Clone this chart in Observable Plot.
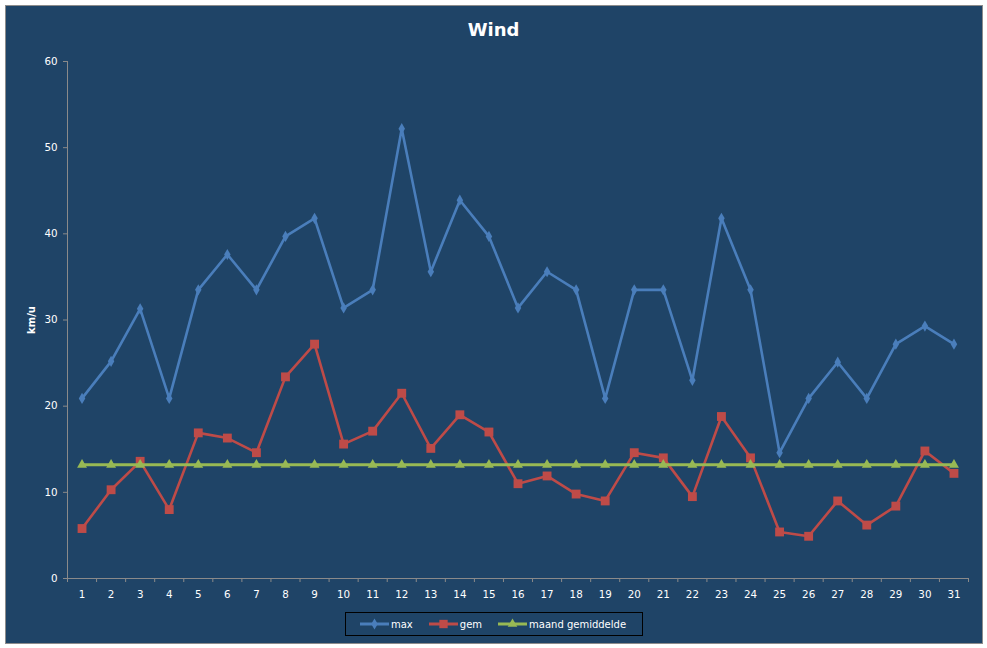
<!DOCTYPE html>
<html><head><meta charset="utf-8">
<script src="https://cdn.jsdelivr.net/npm/d3@7"></script>
<script src="https://cdn.jsdelivr.net/npm/@observablehq/plot@0.6"></script>
<style>
html,body{margin:0;padding:0;background:#fff;width:987px;height:648px;overflow:hidden;}
#frame{position:absolute;left:5px;top:5px;width:976px;height:637px;background:#1F4467;border:1px solid #8c8c8c;}
#chart{position:absolute;left:0;top:0;}
#title{position:absolute;left:0;width:987px;top:19px;text-align:center;font:bold 18px "DejaVu Sans";color:#fff;}
#ylabel{position:absolute;left:31px;top:320px;transform:translate(-50%,-50%) rotate(-90deg);font:bold 10px "DejaVu Sans";color:#fff;white-space:nowrap;}
#legend{position:absolute;left:345px;top:612px;width:296px;height:22px;border:1px solid #000;display:flex;align-items:center;font:10px "DejaVu Sans";color:#fff;}
#legend .item{display:flex;align-items:center;margin-left:14px;}
#legend .item + .item{margin-left:16px;}
#legend svg{display:block;margin-right:2px;}
</style></head>
<body>
<div id="frame"></div>
<div id="chart"></div>
<div id="title">Wind</div>
<div id="ylabel">km/u</div>
<div id="legend"></div>
<script>
const days = [1,2,3,4,5,6,7,8,9,10,11,12,13,14,15,16,17,18,19,20,21,22,23,24,25,26,27,28,29,30,31];
const maxVals = [20.9,25.2,31.3,20.9,33.5,37.6,33.5,39.7,41.8,31.4,33.5,52.2,35.6,43.9,39.7,31.4,35.6,33.5,20.9,33.5,33.5,23.0,41.8,33.5,14.6,20.9,25.1,20.9,27.2,29.3,27.2];
const gemVals = [5.8,10.3,13.6,8.0,16.9,16.3,14.6,23.4,27.2,15.6,17.1,21.5,15.1,19.0,17.0,11.0,11.9,9.8,9.0,14.6,14.0,9.5,18.8,14.0,5.4,4.9,9.0,6.2,8.4,14.8,12.2];
const avgVals = [13.2,13.2,13.2,13.2,13.2,13.2,13.2,13.2,13.2,13.2,13.2,13.2,13.2,13.2,13.2,13.2,13.2,13.2,13.2,13.2,13.2,13.2,13.2,13.2,13.2,13.2,13.2,13.2,13.2,13.2,13.2];
const yTicks = [0,10,20,30,40,50,60];
const seriesNames = ["max","gem","maand gemiddelde"];
const seriesColors = ["#4A7EBB","#BE4B48","#98B954"];
const seriesSymbols = ["diamond","square","triangle"];

const rows = [];
[maxVals, gemVals, avgVals].forEach((vals, s) => {
  days.forEach((d, i) => rows.push({day: d, value: vals[i], series: seriesNames[s]}));
});
const maxRows = rows.filter(r => r.series === "max");
const gemRows = rows.filter(r => r.series === "gem");
const avgRows = rows.filter(r => r.series === "maand gemiddelde");
const gray = "#8a8a8a";
const boundaries = days.map(d => d - 0.5).concat([days[days.length - 1] + 0.5]);

const chart = Plot.plot({
  width: 987,
  height: 648,
  marginLeft: 67,
  marginRight: 19,
  marginTop: 61,
  marginBottom: 70,
  style: {background: "transparent", color: "#ffffff", fontFamily: "DejaVu Sans", fontSize: "10.3px"},
  x: {type: "linear", domain: [0.5, 31.5]},
  y: {domain: [0, 60]},
  marks: [
    Plot.ruleY([0], {stroke: gray}),
    Plot.ruleX([0.5], {stroke: gray}),
    Plot.axisY({ticks: yTicks, tickSize: 4, tickPadding: 6, stroke: gray, fill: "#ffffff", label: null}),
    Plot.axisX({ticks: boundaries, tickSize: 4, tickFormat: () => "", stroke: gray, label: null}),
    Plot.axisX({ticks: days, tickSize: 0, tickPadding: 12, tickFormat: d => String(d), fill: "#ffffff", label: null}),
    Plot.line(maxRows, {x: "day", y: "value", stroke: seriesColors[0], strokeWidth: 2.6}),
    Plot.dot(maxRows, {x: "day", y: "value", symbol: "diamond", r: 3.4, fill: seriesColors[0], stroke: "none"}),
    Plot.line(gemRows, {x: "day", y: "value", stroke: seriesColors[1], strokeWidth: 2.6}),
    Plot.dot(gemRows, {x: "day", y: "value", symbol: "square", r: 5, fill: seriesColors[1], stroke: "none"}),
    Plot.line(avgRows, {x: "day", y: "value", stroke: seriesColors[2], strokeWidth: 2.8}),
    Plot.dot(avgRows, {x: "day", y: "value", symbol: "triangle", r: 3.7, fill: seriesColors[2], stroke: "none"})
  ]
});
document.getElementById("chart").appendChild(chart);

// legend
const legend = d3.select("#legend");
const symMap = {diamond: d3.symbolDiamond, square: d3.symbolSquare, triangle: d3.symbolTriangle};
const symSize = {diamond: 36, square: 70, triangle: 40};
seriesNames.forEach((name, i) => {
  const item = legend.append("div").attr("class", "item");
  const svg = item.append("svg").attr("width", 29).attr("height", 12);
  svg.append("line").attr("x1", 0).attr("x2", 29).attr("y1", 6).attr("y2", 6)
    .attr("stroke", seriesColors[i]).attr("stroke-width", 3);
  svg.append("path").attr("transform", "translate(14.5,6)")
    .attr("d", d3.symbol(symMap[seriesSymbols[i]], symSize[seriesSymbols[i]])())
    .attr("fill", seriesColors[i]);
  item.append("span").text(name);
});
</script>
</body></html>
